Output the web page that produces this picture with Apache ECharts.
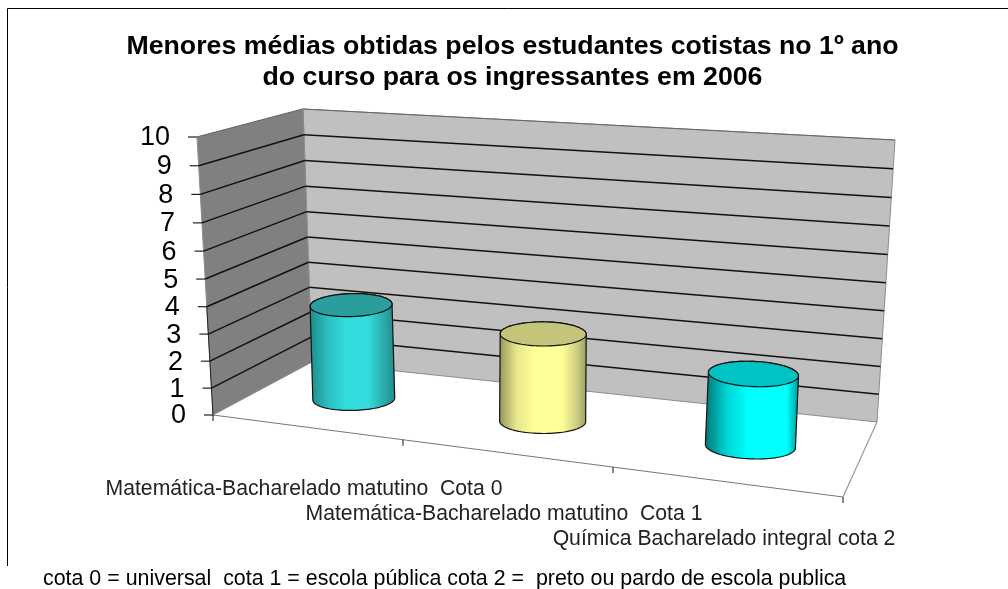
<!DOCTYPE html>
<html>
<head>
<meta charset="utf-8">
<style>html,body{margin:0;padding:0;background:#fff}#c{width:1008px;height:589px}</style>
<script src="https://cdn.jsdelivr.net/npm/echarts@6/dist/echarts.min.js"></script>
</head>
<body>
<div id="c"></div>
<script>
const categories = [
  'Matemática-Bacharelado matutino  Cota 0',
  'Matemática-Bacharelado matutino  Cota 1',
  'Química Bacharelado integral cota 2'
];
const values = [3.55, 3.2, 2.55];
const yTicks = [0, 1, 2, 3, 4, 5, 6, 7, 8, 9, 10];
const titleText = 'Menores médias obtidas pelos estudantes cotistas no 1º ano\ndo curso para os ingressantes em 2006';
const footerText = 'cota 0 = universal  cota 1 = escola pública cota 2 =  preto ou pardo de escola publica';
const bodyStops = [
  [[0,'#1c8a8a'],[0.2,'#2bbcbc'],[0.42,'#33dddd'],[0.68,'#33dddd'],[0.88,'#2aa8a8'],[1,'#1f8a8a']],
  [[0,'#94945f'],[0.2,'#e6e68c'],[0.4,'#ffff99'],[0.72,'#ffff99'],[0.9,'#c8c87e'],[1,'#9a9a62']],
  [[0,'#007474'],[0.22,'#00d0d0'],[0.46,'#00ffff'],[0.87,'#00ffff'],[1,'#009292']]
];
const topColors = ['#2a9d9d', '#c4c47a', '#00c4c4'];

// Projected chart box: floor and top-plane corners
const floorBox = {bl:[312,362], br:[877,422], fl:[213,415], fr:[843,497]};
const topBox   = {bl:[303,109], br:[895,140], fl:[197,137], fr:[861,187]};
const warp = u => 0.857*u + 0.143*u*u;
const lerp = (a,b,t) => [a[0]+(b[0]-a[0])*t, a[1]+(b[1]-a[1])*t];
function plane(box,u,d){
  const w = warp(u);
  return lerp(lerp(box.bl,box.br,w), lerp(box.fl,box.fr,w), d);
}
// u: 0..1 along categories, v: 0..1 of the value range, d: 0 back..1 front
function proj(u,v,d){
  const vv = v - (0.006+0.005*d)*Math.sin(Math.PI*v);
  return lerp(plane(floorBox,u,d), plane(topBox,u,d), vv);
}
function norm(params,api,cat,val){
  const cs = params.coordSys, c = api.coord([cat,val]);
  return [(c[0]-cs.x)/cs.width, (cs.y+cs.height-c[1])/cs.height];
}
const silentLine = (a,b,color,w) => ({type:'line',silent:true,shape:{x1:a[0],y1:a[1],x2:b[0],y2:b[1]},style:{stroke:color,lineWidth:w}});

function renderWalls(params,api){
  const poly=(pts,fill)=>({type:'polygon',shape:{points:pts},style:{fill,stroke:'#8c8c8c',lineWidth:1}});
  return {type:'group',children:[
    poly([proj(0,0,0),proj(1,0,0),proj(1,1,0),proj(0,1,0)],'#c0c0c0'),
    poly([proj(0,0,1),proj(0,0,0),proj(0,1,0),proj(0,1,1)],'#808080'),
    silentLine(proj(0,0,1),proj(1,0,1),'#777',1),
    silentLine(proj(1,0,1),proj(1,0,0),'#999',1.2),
    silentLine(proj(0,0,1),proj(0,0.4,1),'#222',1)
  ]};
}
function renderGrid(params,api){
  const val = api.value(0);
  const v = norm(params,api,0,val)[1];
  const a=proj(0,v,1), b=proj(0,v,0), c=proj(1,v,0);
  const children=[
    silentLine([a[0]-9,a[1]],a,'#222',1.2),
    {type:'text',style:{text:String(val),x:a[0]-27,y:a[1]+1,textAlign:'right',textVerticalAlign:'middle',font:'27px "Liberation Sans"',fill:'#000'}}
  ];
  if(val>0 && val<10){
    children.push(silentLine(a,b,'#111',1.5), silentLine(b,c,'#111',1.5));
  } else if(val===10){
    children.push(silentLine(a,b,'#666',1), silentLine(b,c,'#666',1));
  }
  return {type:'group',children};
}
function renderXTicks(params,api){
  const k = api.value(0);
  const p = proj(k/categories.length,0,1);
  return silentLine(p,[p[0],p[1]+6],'#111',1);
}
function renderLabels(params,api){
  const i = api.value(0);
  const n = norm(params,api,i,0);
  const p = proj(n[0],0,1);
  return {type:'text',style:{text:categories[i],x:p[0]-1.5,y:489.5+25*i,textAlign:'center',textVerticalAlign:'middle',font:'21.2px "Liberation Sans"',fill:'#222'}};
}
function renderCyl(params,api){
  const i = api.value(0), n = norm(params,api,i,api.value(1));
  const depth=0.5, dx=0.46, ru=0.072, ratio=0.28;
  const base=[proj(n[0],0,dx)[0],proj(n[0],0,depth)[1]], top=[proj(n[0],n[1],dx)[0],proj(n[0],n[1],depth)[1]];
  const l=plane(floorBox,n[0]-ru,depth), r=plane(floorBox,n[0]+ru,depth);
  const rx=43+(Math.abs(r[0]-l[0])/2-43)*0.5, ry=rx*ratio;
  const ax=[top[0]-base[0],top[1]-base[1]], len=Math.hypot(ax[0],ax[1]);
  const ex=[-ax[1]/len,ax[0]/len];
  if(ex[0]<0){ex[0]=-ex[0];ex[1]=-ex[1];}
  const ey=[-ex[1],ex[0]];
  const pt=(c,t)=>[c[0]+ex[0]*rx*Math.cos(t)+ey[0]*ry*Math.sin(t), c[1]+ex[1]*rx*Math.cos(t)+ey[1]*ry*Math.sin(t)];
  const N=48, body=[], ell=[];
  for(let k=0;k<=N;k++){ body.push(pt(base,Math.PI*k/N)); }
  for(let k=0;k<=N;k++){ body.push(pt(top,Math.PI+Math.PI*k/N)); }
  for(let k=0;k<N*2;k++){ ell.push(pt(top,Math.PI*k/N)); }
  const stops=bodyStops[i].map(s=>({offset:s[0],color:s[1]}));
  return {type:'group',children:[
    {type:'polygon',shape:{points:body},style:{fill:{type:'linear',x:0,y:0,x2:1,y2:0,colorStops:stops},stroke:'#111',lineWidth:1.2}},
    {type:'polygon',shape:{points:ell},style:{fill:topColors[i],stroke:'#111',lineWidth:1.2}}
  ]};
}
const custom=(renderItem,data,extra)=>Object.assign({type:'custom',renderItem,data,clip:false,silent:true,animation:false},extra||{});

const chart = echarts.init(document.getElementById('c'),null,{renderer:'canvas'});
chart.setOption({
  backgroundColor:'#fff',
  animation:false,
  title:[
    {text:titleText,left:507.5,top:26.5,textAlign:'center',textStyle:{fontFamily:'"Liberation Sans"',fontWeight:'bold',fontSize:26.7,lineHeight:31,color:'#000'}},
    {text:footerText,left:38,top:564,textStyle:{fontFamily:'"Liberation Sans"',fontWeight:'normal',fontSize:21.4,color:'#000'}}
  ],
  graphic:[
    {type:'polyline',silent:true,shape:{points:[[7.5,566],[7.5,8.5],[1008,8.5]]},style:{stroke:'#000',lineWidth:1,fill:null}}
  ],
  grid:{left:0,right:0,top:0,bottom:0},
  xAxis:{type:'category',data:categories,show:false},
  yAxis:{type:'value',min:0,max:10,interval:1,show:false},
  series:[
    custom(renderWalls,[[0]]),
    custom(renderGrid,yTicks.map(v=>[v]),{encode:{y:0}}),
    custom(renderXTicks,[0,1,2,3].map(k=>[k])),
    custom(renderLabels,categories.map((c,i)=>[i])),
    custom(renderCyl,values.map((v,i)=>[i,v]),{encode:{x:0,y:1}})
  ]
});
</script>
</body>
</html>
